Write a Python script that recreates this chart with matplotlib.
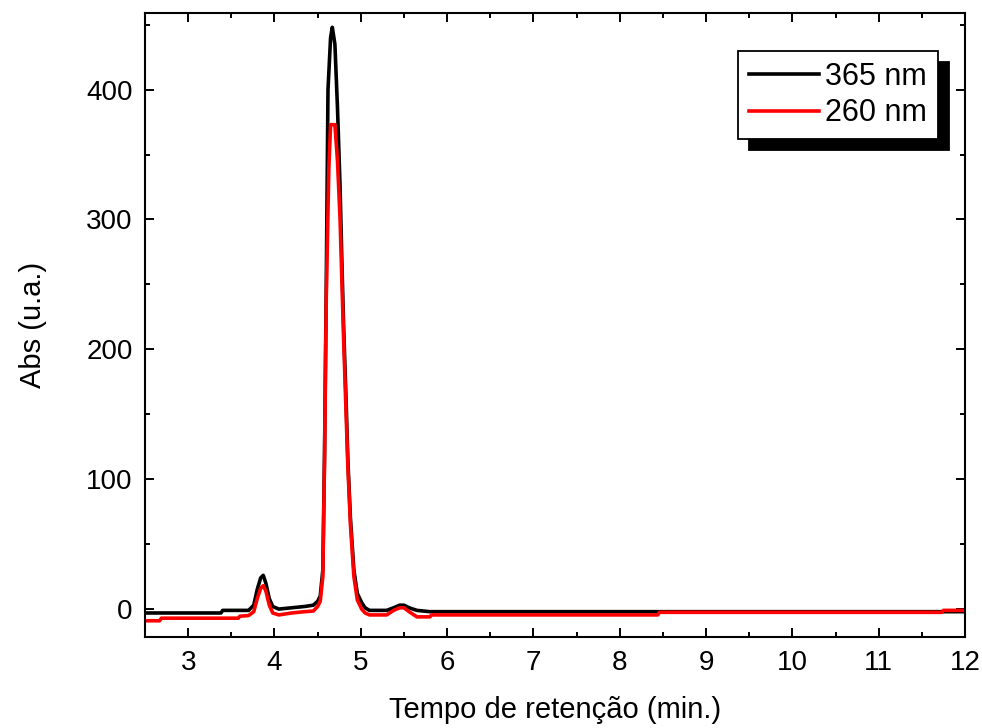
import matplotlib
matplotlib.use("Agg")
import matplotlib.pyplot as plt
from matplotlib.ticker import MultipleLocator

plt.rcParams['font.family'] = ['Liberation Sans', 'DejaVu Sans']

# ---------------------------------------------------------------------------
# data (retention time in min, absorbance in u.a.)
# ---------------------------------------------------------------------------
t_365 = [2.5, 3.38, 3.40, 3.70, 3.76, 3.80, 3.84, 3.87, 3.90, 3.94, 3.98, 4.05,
         4.20, 4.35, 4.45, 4.50, 4.53, 4.56, 4.58, 4.60, 4.62, 4.65, 4.67, 4.70,
         4.73, 4.76, 4.78, 4.80, 4.83, 4.85, 4.88, 4.92, 4.96, 5.01, 5.05, 5.10,
         5.30, 5.38, 5.45, 5.50, 5.56, 5.65, 5.80, 12.0]
abs_365 = [-3, -3, -1, -1, 3, 15, 24, 26, 20, 8, 2, 0,
           1, 2, 3, 6, 10, 30, 120, 250, 400, 440, 448, 435,
           386, 325, 270, 220, 160, 115, 70, 30, 12, 5, 1, -1,
           -1, 1, 3, 3, 1, -1, -2, -2]

t_260 = [2.5, 2.67, 2.69, 3.58, 3.60, 3.70, 3.76, 3.80, 3.84, 3.87, 3.90, 3.94,
         3.98, 4.05, 4.20, 4.35, 4.45, 4.50, 4.53, 4.56, 4.58, 4.60, 4.63, 4.65,
         4.70, 4.73, 4.76, 4.78, 4.80, 4.83, 4.85, 4.88, 4.92, 4.96, 5.01, 5.05,
         5.10, 5.30, 5.38, 5.45, 5.50, 5.56, 5.65, 5.80, 5.82, 8.44, 8.46, 11.73,
         11.75, 12.0]
abs_260 = [-9, -9, -7, -7, -5.5, -5, -2, 8, 16, 18, 14, 3,
           -3, -4.5, -3, -2, -1.5, 2, 6, 25, 115, 240, 340, 373,
           373, 345, 300, 255, 210, 150, 110, 65, 25, 7, 0, -3,
           -4.5, -4.5, -1, 1, 1, -2, -6, -6, -4.5, -4.5, -2.5, -2.5,
           -1, -1]

labels = ['365 nm', '260 nm']
colors = ['black', 'red']

fig = plt.figure(figsize=(9.82, 7.28), dpi=100)
ax = fig.add_axes([145 / 982, 1 - 637 / 728, 820 / 982, 624 / 728])

ax.plot(t_365, abs_365, color=colors[0], lw=2.6, label=labels[0])
ax.plot(t_260, abs_260, color=colors[1], lw=2.6, label=labels[1])

ax.set_xlim(2.5, 12)
ax.set_ylim(-21.5, 459)
ax.xaxis.set_major_locator(MultipleLocator(1))
ax.xaxis.set_minor_locator(MultipleLocator(0.5))
ax.yaxis.set_major_locator(MultipleLocator(100))
ax.yaxis.set_minor_locator(MultipleLocator(50))

ax.tick_params(which='both', direction='in', top=True, right=True,
               width=1.4, labelsize=20, colors='black')
ax.tick_params(which='major', length=6.5, pad=9)
ax.tick_params(which='minor', length=3.5)
for s in ax.spines.values():
    s.set_linewidth(1.5)

ax.set_xlabel('Tempo de retenção (min.)', fontsize=21, labelpad=15)
ax.set_ylabel('Abs (u.a.)', fontsize=21, labelpad=28)

leg = ax.legend(loc='upper right', bbox_to_anchor=(0.967, 0.939), borderaxespad=0,
                fontsize=22, handlelength=2.3, handletextpad=0.2,
                labelspacing=0.22, borderpad=0.35, fancybox=False,
                shadow={'ox': 8, 'oy': -8, 'facecolor': 'black',
                        'edgecolor': 'black', 'alpha': 1})
leg.get_frame().set_edgecolor('black')
leg.get_frame().set_linewidth(1.3)
leg.get_frame().set_alpha(1)

fig.savefig('out.png', dpi=100)
